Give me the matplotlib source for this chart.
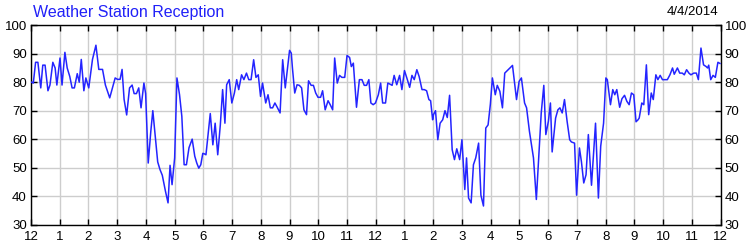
import matplotlib
matplotlib.use("Agg")
import matplotlib.pyplot as plt

# ---- data (hours since midnight, reception %) ----
times_am = [0.02, 0.08, 0.16, 0.24, 0.34, 0.41, 0.49, 0.59, 0.66, 0.76, 0.84, 0.90,
            1.01, 1.08, 1.18, 1.26, 1.35, 1.43, 1.51, 1.61, 1.68, 1.75, 1.84, 1.91,
            2.01, 2.14, 2.26, 2.36, 2.49, 2.59, 2.74, 2.85, 2.93,
            3.01, 3.10, 3.17, 3.24, 3.33, 3.43, 3.52, 3.59, 3.67, 3.75, 3.83, 3.93, 3.99,
            4.08, 4.17, 4.24, 4.33, 4.41, 4.49, 4.57, 4.68, 4.77, 4.84, 4.91,
            5.00, 5.08, 5.17, 5.25, 5.33, 5.41, 5.50, 5.61, 5.70, 5.77, 5.84, 5.91, 5.98,
            6.04, 6.09, 6.24, 6.33, 6.41, 6.50, 6.59, 6.67, 6.75, 6.81, 6.90, 6.99,
            7.08, 7.16, 7.23, 7.33, 7.41, 7.50, 7.58, 7.66, 7.75, 7.83, 7.91, 7.99,
            8.06, 8.17, 8.25, 8.33, 8.41, 8.49, 8.57, 8.67, 8.76, 8.85, 9.00,
            9.06, 9.10, 9.18, 9.26, 9.34, 9.42, 9.50, 9.59, 9.66, 9.75, 9.83, 9.91, 9.99,
            10.08, 10.15, 10.24, 10.34, 10.42, 10.50, 10.57, 10.66, 10.74, 10.82, 10.92,
            11.00, 11.09, 11.15, 11.22, 11.33, 11.43, 11.52, 11.60, 11.68, 11.76, 11.83,
            11.91, 11.99]
values_am = [80, 79.7, 87, 87, 78, 86, 86, 77, 79, 87, 85, 79,
             88.5, 79, 90.5, 85, 82, 78, 78, 83, 80, 88, 77, 81.5,
             78, 88, 93, 84.5, 84.5, 79, 74.5, 78.5, 81.5,
             81, 81, 84.5, 74, 68.5, 78, 79, 76, 76, 78, 71, 79.7, 76,
             51.6, 62.7, 70, 60.5, 52, 49.3, 47.3, 41.7, 37.6, 50.8, 44,
             53.4, 81.5, 75.6, 68, 51, 51, 57, 60, 54, 51.6, 49.8, 51, 55,
             54.8, 54.5, 69, 58, 65.6, 54.5, 65, 77.4, 65.6, 79.1, 80.9, 72.7,
             76.2, 80.9, 77.4, 82.6, 80.9, 83.2, 80.9, 80.9, 87.9, 81.7, 82.6, 75,
             79.7, 72.7, 75.6, 71, 71, 72.7, 71.2, 69.2, 87.9, 78, 91.2,
             90.2, 85, 76.2, 79.1, 78.9, 78, 70.3, 68.6, 80.5, 78.9, 78.9, 76.2, 74.7,
             74.7, 77, 70.3, 73.5, 72, 70.3, 88.5, 79.7, 82.4, 81.7, 81.7,
             89.4, 88.7, 85.5, 86.7, 71.2, 80.9, 80.9, 78.9, 78.9, 80.9, 72.7,
             72.1, 72.7]

times_pm = [12.09, 12.17, 12.24, 12.34, 12.42, 12.50, 12.57, 12.64, 12.73, 12.83, 12.91,
            13.00, 13.10, 13.18, 13.26, 13.34, 13.43, 13.51, 13.61, 13.69, 13.77, 13.85, 13.91, 13.98,
            14.01, 14.08, 14.16, 14.24, 14.33, 14.41, 14.49, 14.57, 14.66, 14.74, 14.82, 14.92,
            15.00, 15.10, 15.16, 15.23, 15.32, 15.40, 15.48, 15.58, 15.66, 15.75, 15.83, 15.91, 15.99,
            16.06, 16.16, 16.23, 16.32, 16.41, 16.49, 16.76, 16.90, 16.99,
            17.07, 17.18, 17.25, 17.35, 17.49, 17.59, 17.69, 17.76, 17.85, 17.92,
            18.01, 18.08, 18.14, 18.26, 18.34, 18.41, 18.49, 18.57, 18.66, 18.75, 18.81, 18.92, 18.99,
            19.09, 19.16, 19.24, 19.32, 19.40, 19.51, 19.65, 19.75, 19.83, 19.93,
            20.01, 20.06, 20.17, 20.25, 20.32, 20.39, 20.49, 20.57, 20.66, 20.74, 20.82, 20.90, 20.98,
            21.06, 21.13, 21.17, 21.26, 21.33, 21.42, 21.50, 21.59, 21.66, 21.75, 21.82, 21.90, 21.98,
            22.15, 22.24, 22.33, 22.39, 22.50, 22.58, 22.67, 22.74, 22.82, 22.90, 22.97,
            23.07, 23.16, 23.23, 23.32, 23.41, 23.50, 23.55, 23.59, 23.66, 23.74, 23.82, 23.91, 23.98]
values_pm = [75.6, 79.7, 72.7, 72.7, 79.7, 79.3, 78.9, 82.4, 79.1, 82.4, 77.4,
             84.1, 80.9, 78.2, 82.4, 80.9, 84.4, 82, 77.4, 77.4, 77, 73.9, 73.5, 66.8,
             68.6, 70, 59.8, 65.6, 66.8, 70, 67.6, 75.4, 56.3, 52.8, 56.6, 52.8,
             59.8, 42.3, 53.4, 39.3, 37.6, 51, 53.4, 58.6, 40.3, 36.5, 63.9, 65, 72.3,
             81.5, 75.6, 78.9, 76.8, 71, 83.2, 85.9, 73.9, 80.3,
             81.5, 72.7, 71, 62.7, 53.4, 38.8, 56.9, 69.2, 78.9, 61.6,
             66.3, 72.7, 55.5, 67.4, 70.3, 71, 69.2, 73.9, 66.3, 59.8, 59, 58.6, 40.3,
             56.9, 52, 44.6, 47.5, 61.6, 43.8, 65.6, 39.3, 57.5, 65.6,
             81.5, 80.9, 72.1, 77.4, 75.6, 77.4, 71.2, 74.2, 75.4, 73.3, 72.1, 76.2, 75.6,
             66.1, 66.8, 67.4, 72.7, 72.1, 86.1, 68.6, 76.2, 73.9, 82.6, 80.9, 82.4, 80.9,
             80.9, 82.6, 85, 82.8, 85, 83.2, 83.2, 82.6, 84.4, 83.2, 82.6,
             83.2, 83.2, 80.9, 92, 86.1, 85.5, 85, 86, 80.9, 82.4, 81.7, 87, 86.6]

hour_ticks = list(range(0, 25))
hour_labels = ["12", "1", "2", "3", "4", "5", "6", "7", "8", "9", "10", "11",
               "12", "1", "2", "3", "4", "5", "6", "7", "8", "9", "10", "11", "12"]
y_ticks = [30, 40, 50, 60, 70, 80, 90, 100]

title_text = "Weather Station Reception"
date_text = "4/4/2014"

# ---- figure ----
plt.rcParams['font.family'] = ['Liberation Sans', 'DejaVu Sans']
fig = plt.figure(figsize=(7.5, 2.5), dpi=100)
ax = fig.add_axes([31 / 750, 1 - 224.5 / 250, (720.5 - 31) / 750, (224.5 - 25.3) / 250])

times = times_am + times_pm
values = values_am + values_pm
ax.plot(times, values, color='#2424FF', linewidth=1.1, zorder=3)

ax.set_xlim(0, 24)
ax.set_ylim(30, 100)
ax.set_xticks(hour_ticks)
ax.set_xticklabels(hour_labels)
ax.set_yticks(y_ticks)
ax.grid(True, color='#CDCDCD', linewidth=1.0, zorder=0)
ax.set_axisbelow(True)

ax.tick_params(axis='both', direction='in', length=4, width=1, colors='black',
               labelsize=9.5, top=True, right=True, labelright=True)
ax.tick_params(axis='x', pad=5)
ax.tick_params(axis='y', pad=3)
for s in ax.spines.values():
    s.set_linewidth(1.0)
    s.set_color('black')

fig.text(33 / 750, 1 - 12 / 250, title_text, color='#2020F8', fontsize=11.5,
         ha='left', va='center')
fig.text(718 / 750, 1 - 12 / 250, date_text, color='black', fontsize=9.5,
         ha='right', va='center')

fig.savefig('out.png', dpi=100, facecolor='white')
